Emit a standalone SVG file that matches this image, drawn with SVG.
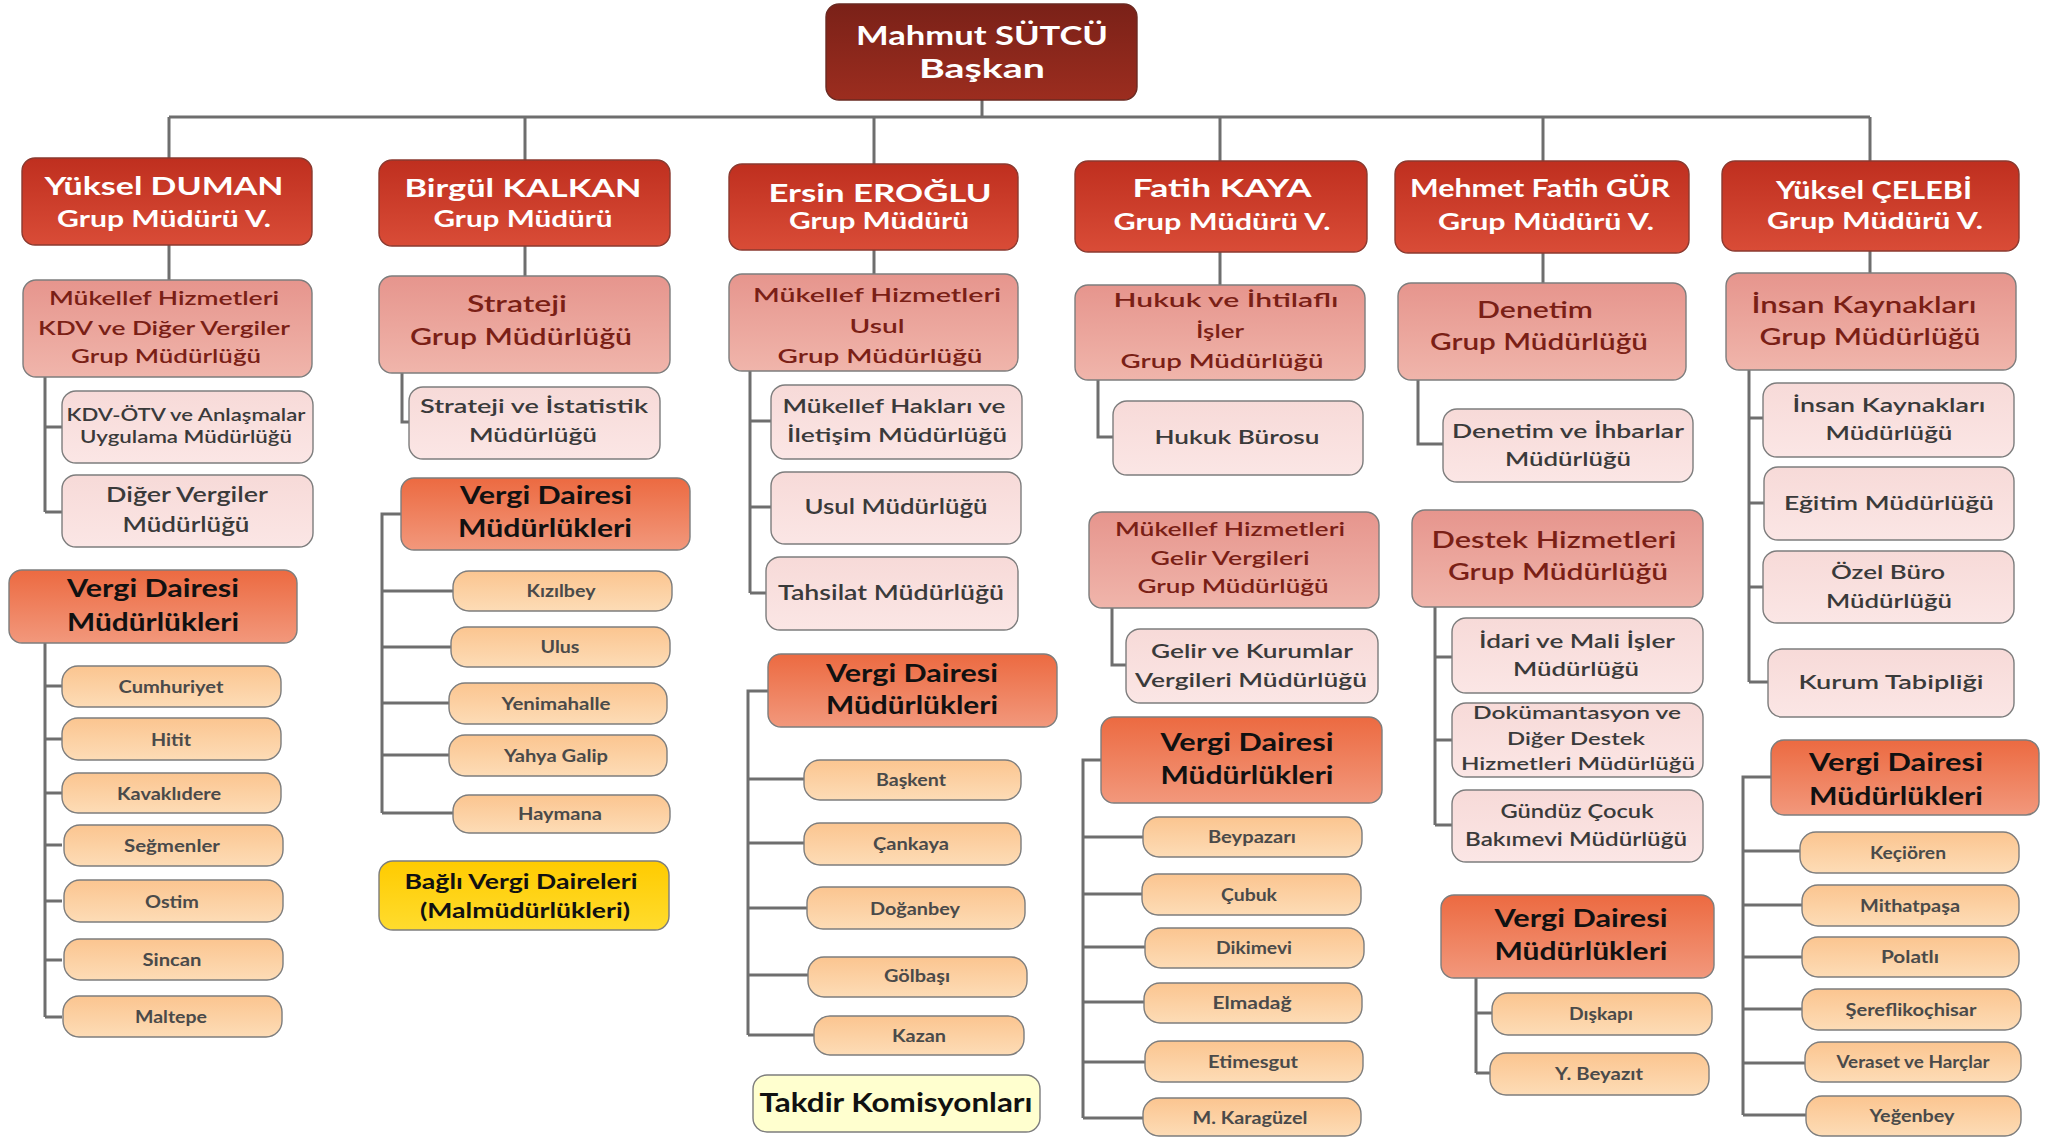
<svg xmlns="http://www.w3.org/2000/svg" width="2056" height="1138" viewBox="0 0 2056 1138">
<defs>
<linearGradient id="gTop" x1="0" y1="0" x2="0" y2="1"><stop offset="0" stop-color="#7a2118"/><stop offset="1" stop-color="#9c2d1f"/></linearGradient>
<linearGradient id="gRed" x1="0" y1="0" x2="0" y2="1"><stop offset="0" stop-color="#bf2f1f"/><stop offset="1" stop-color="#d94c37"/></linearGradient>
<linearGradient id="gPink" x1="0" y1="0" x2="0" y2="1"><stop offset="0" stop-color="#e6958d"/><stop offset="1" stop-color="#f0b5ab"/></linearGradient>
<linearGradient id="gLight" x1="0" y1="0" x2="0" y2="1"><stop offset="0" stop-color="#f7dad8"/><stop offset="1" stop-color="#fbe6e5"/></linearGradient>
<linearGradient id="gOrange" x1="0" y1="0" x2="0" y2="1"><stop offset="0" stop-color="#ec6a41"/><stop offset="1" stop-color="#f2987c"/></linearGradient>
<linearGradient id="gLeaf" x1="0" y1="0" x2="0" y2="1"><stop offset="0" stop-color="#fbc590"/><stop offset="1" stop-color="#fddcb6"/></linearGradient>
<linearGradient id="gYellow" x1="0" y1="0" x2="0" y2="1"><stop offset="0" stop-color="#ffcb00"/><stop offset="1" stop-color="#ffdc2e"/></linearGradient>
</defs>
<style>
text{font-family:Lato,"Open Sans","DejaVu Sans",sans-serif;text-anchor:middle}
rect{stroke:#7d7d7d;stroke-width:1.4}
.top{fill:url(#gTop);stroke:#6a2a22}
.red{fill:url(#gRed);stroke:#8a3a30}
.pink{fill:url(#gPink)}
.light{fill:url(#gLight)}
.vdm{fill:url(#gOrange)}
.leaf{fill:url(#gLeaf)}
.yel{fill:url(#gYellow)}
.tak{fill:#ffffcf}
.tw{fill:#ffffff;font-weight:700}
.tp{fill:#7a1f16;font-weight:600}
.ts{fill:#3a3a3a;font-weight:600}
.tv{fill:#111111;font-weight:700;font-size:24px}
.tl{fill:#4a4a4a;font-weight:700;font-size:16.5px}
.tb{fill:#111111;font-weight:700}
#connectors path{fill:none;stroke:#6e6e6e;stroke-width:3}
</style>

<g id="connectors">
<path d="M982,100V117M169,117H1870M169,117V158M525,117V160M874,117V164M1220,117V161M1543,117V161M1870,117V161"/>
<path d="M169,245V280M525,246V276M874,250V274M1220,252V285M1543,253V283M1870,251V273"/>
<path d="M45,377V512M45,427H62M45,512H62"/>
<path d="M45,643V1017M45,686H62M45,739H62M45,793H62M45,845H62M45,901H62M45,960H62M45,1017H62"/>
<path d="M402,373V422H409"/>
<path d="M401,514H382V813M382,591H453M382,647H451M382,703H449M382,755H449M382,813H453"/>
<path d="M750,371V593M750,421H771M750,507H771M750,593H766"/>
<path d="M768,691H748V1035M748,779H804M748,843H804M748,908H807M748,975H808M748,1035H814"/>
<path d="M1098,380V437H1113"/>
<path d="M1112,608V665H1126"/>
<path d="M1101,760H1083V1118M1083,837H1143M1083,894H1142M1083,947H1145M1083,1002H1144M1083,1062H1145M1083,1118H1143"/>
<path d="M1418,380V444H1443"/>
<path d="M1435,607V825M1435,657H1452M1435,740H1452M1435,825H1452"/>
<path d="M1476,978V1073M1476,1013H1492M1476,1073H1490"/>
<path d="M1749,370V682M1749,418H1763M1749,503H1764M1749,587H1763M1749,682H1768"/>
<path d="M1771,777H1743V1115M1743,851H1800M1743,905H1802M1743,957H1802M1743,1009H1802M1743,1063H1805M1743,1115H1806"/>
</g>

<g id="n-sutcu"><rect class="top" x="826" y="4" width="311" height="96" rx="13"/>
<text class="tw" x="982" y="45" font-size="26" textLength="252" lengthAdjust="spacingAndGlyphs">Mahmut SÜTCÜ</text>
<text class="tw" x="982" y="78" font-size="26" textLength="126" lengthAdjust="spacingAndGlyphs">Başkan</text></g>

<g id="n-duman"><rect class="red" x="22" y="158" width="290" height="87" rx="13"/>
<text class="tw" x="164" y="195" font-size="25" textLength="239" lengthAdjust="spacingAndGlyphs">Yüksel DUMAN</text>
<text class="tw" x="164" y="227" font-size="23" textLength="214" lengthAdjust="spacingAndGlyphs">Grup Müdürü V.</text></g>
<g id="n-kalkan"><rect class="red" x="379" y="160" width="291" height="86" rx="13"/>
<text class="tw" x="523" y="197" font-size="25" textLength="237" lengthAdjust="spacingAndGlyphs">Birgül KALKAN</text>
<text class="tw" x="523" y="227" font-size="23" textLength="179" lengthAdjust="spacingAndGlyphs">Grup Müdürü</text></g>
<g id="n-eroglu"><rect class="red" x="729" y="164" width="289" height="86" rx="13"/>
<text class="tw" x="880" y="202" font-size="24" textLength="223" lengthAdjust="spacingAndGlyphs">Ersin EROĞLU</text>
<text class="tw" x="879" y="229" font-size="23" textLength="180" lengthAdjust="spacingAndGlyphs">Grup Müdürü</text></g>
<g id="n-kaya"><rect class="red" x="1075" y="161" width="292" height="91" rx="13"/>
<text class="tw" x="1222" y="197" font-size="24" textLength="179" lengthAdjust="spacingAndGlyphs">Fatih KAYA</text>
<text class="tw" x="1222" y="230" font-size="23" textLength="217" lengthAdjust="spacingAndGlyphs">Grup Müdürü V.</text></g>
<g id="n-gur"><rect class="red" x="1395" y="161" width="294" height="92" rx="13"/>
<text class="tw" x="1540" y="197" font-size="24" textLength="260" lengthAdjust="spacingAndGlyphs">Mehmet Fatih GÜR</text>
<text class="tw" x="1546" y="230" font-size="23" textLength="216" lengthAdjust="spacingAndGlyphs">Grup Müdürü V.</text></g>
<g id="n-celebi"><rect class="red" x="1722" y="161" width="297" height="90" rx="13"/>
<text class="tw" x="1874" y="199" font-size="24" textLength="196" lengthAdjust="spacingAndGlyphs">Yüksel ÇELEBİ</text>
<text class="tw" x="1875" y="229" font-size="23" textLength="216" lengthAdjust="spacingAndGlyphs">Grup Müdürü V.</text></g>

<g id="n-kdvgrup"><rect class="pink" x="23" y="280" width="289" height="97" rx="13"/>
<text class="tp" x="164" y="305" font-size="19.5" textLength="230" lengthAdjust="spacingAndGlyphs">Mükellef Hizmetleri</text>
<text class="tp" x="164" y="335" font-size="19.5" textLength="252" lengthAdjust="spacingAndGlyphs">KDV ve Diğer Vergiler</text>
<text class="tp" x="166" y="363" font-size="19.5" textLength="190" lengthAdjust="spacingAndGlyphs">Grup Müdürlüğü</text></g>
<g id="n-kdvotv"><rect class="light" x="62" y="391" width="251" height="72" rx="14"/>
<text class="ts" x="186" y="421" font-size="17" textLength="239" lengthAdjust="spacingAndGlyphs">KDV-ÖTV ve Anlaşmalar</text>
<text class="ts" x="186" y="443" font-size="17" textLength="212" lengthAdjust="spacingAndGlyphs">Uygulama Müdürlüğü</text></g>
<g id="n-diger"><rect class="light" x="62" y="475" width="251" height="72" rx="14"/>
<text class="ts" x="187" y="502" font-size="21" textLength="162" lengthAdjust="spacingAndGlyphs">Diğer Vergiler</text>
<text class="ts" x="186" y="532" font-size="21" textLength="127" lengthAdjust="spacingAndGlyphs">Müdürlüğü</text></g>
<g id="n-vdm1"><rect class="vdm" x="9" y="570" width="288" height="73" rx="13"/>
<text class="tv" x="153" y="597" textLength="172" lengthAdjust="spacingAndGlyphs">Vergi Dairesi</text>
<text class="tv" x="153" y="631" textLength="172" lengthAdjust="spacingAndGlyphs">Müdürlükleri</text></g>
<g id="n-cumhuriyet"><rect class="leaf" x="62" y="666" width="219" height="41" rx="16"/><text class="tl" x="171" y="693" textLength="105" lengthAdjust="spacingAndGlyphs">Cumhuriyet</text></g>
<g id="n-hitit"><rect class="leaf" x="62" y="718" width="219" height="42" rx="16"/><text class="tl" x="171" y="746" textLength="40" lengthAdjust="spacingAndGlyphs">Hitit</text></g>
<g id="n-kavaklidere"><rect class="leaf" x="62" y="773" width="219" height="40" rx="16"/><text class="tl" x="169" y="800" textLength="104" lengthAdjust="spacingAndGlyphs">Kavaklıdere</text></g>
<g id="n-segmenler"><rect class="leaf" x="64" y="825" width="219" height="41" rx="16"/><text class="tl" x="172" y="852" textLength="96" lengthAdjust="spacingAndGlyphs">Seğmenler</text></g>
<g id="n-ostim"><rect class="leaf" x="64" y="880" width="219" height="42" rx="16"/><text class="tl" x="172" y="908" textLength="54" lengthAdjust="spacingAndGlyphs">Ostim</text></g>
<g id="n-sincan"><rect class="leaf" x="64" y="939" width="219" height="41" rx="16"/><text class="tl" x="172" y="966" textLength="59" lengthAdjust="spacingAndGlyphs">Sincan</text></g>
<g id="n-maltepe"><rect class="leaf" x="63" y="996" width="219" height="41" rx="16"/><text class="tl" x="171" y="1023" textLength="72" lengthAdjust="spacingAndGlyphs">Maltepe</text></g>

<g id="n-strateji"><rect class="pink" x="379" y="276" width="291" height="97" rx="13"/>
<text class="tp" x="517" y="312" font-size="23" textLength="100" lengthAdjust="spacingAndGlyphs">Strateji</text>
<text class="tp" x="521" y="345" font-size="23" textLength="222" lengthAdjust="spacingAndGlyphs">Grup Müdürlüğü</text></g>
<g id="n-stratist"><rect class="light" x="409" y="387" width="251" height="72" rx="14"/>
<text class="ts" x="534" y="413" font-size="20" textLength="228" lengthAdjust="spacingAndGlyphs">Strateji ve İstatistik</text>
<text class="ts" x="533" y="442" font-size="20" textLength="128" lengthAdjust="spacingAndGlyphs">Müdürlüğü</text></g>
<g id="n-vdm2"><rect class="vdm" x="401" y="478" width="289" height="72" rx="13"/>
<text class="tv" x="546" y="504" textLength="172" lengthAdjust="spacingAndGlyphs">Vergi Dairesi</text>
<text class="tv" x="545" y="537" textLength="174" lengthAdjust="spacingAndGlyphs">Müdürlükleri</text></g>
<g id="n-kizilbey"><rect class="leaf" x="453" y="571" width="219" height="40" rx="16"/><text class="tl" x="561" y="597" textLength="69" lengthAdjust="spacingAndGlyphs">Kızılbey</text></g>
<g id="n-ulus"><rect class="leaf" x="451" y="627" width="219" height="40" rx="16"/><text class="tl" x="560" y="653" textLength="39" lengthAdjust="spacingAndGlyphs">Ulus</text></g>
<g id="n-yenimahalle"><rect class="leaf" x="449" y="683" width="218" height="41" rx="16"/><text class="tl" x="556" y="710" textLength="109" lengthAdjust="spacingAndGlyphs">Yenimahalle</text></g>
<g id="n-yahyagalip"><rect class="leaf" x="449" y="735" width="218" height="41" rx="16"/><text class="tl" x="556" y="762" textLength="104" lengthAdjust="spacingAndGlyphs">Yahya Galip</text></g>
<g id="n-haymana"><rect class="leaf" x="453" y="795" width="217" height="38" rx="16"/><text class="tl" x="560" y="820" textLength="84" lengthAdjust="spacingAndGlyphs">Haymana</text></g>
<g id="n-bagli"><rect class="yel" x="379" y="861" width="290" height="69" rx="14"/>
<text class="tb" x="521" y="889" font-size="21" textLength="233" lengthAdjust="spacingAndGlyphs">Bağlı Vergi Daireleri</text>
<text class="tb" x="525" y="918" font-size="21" textLength="210" lengthAdjust="spacingAndGlyphs">(Malmüdürlükleri)</text></g>

<g id="n-usulgrup"><rect class="pink" x="729" y="274" width="289" height="97" rx="13"/>
<text class="tp" x="877" y="302" font-size="20" textLength="248" lengthAdjust="spacingAndGlyphs">Mükellef Hizmetleri</text>
<text class="tp" x="877" y="333" font-size="20" textLength="55" lengthAdjust="spacingAndGlyphs">Usul</text>
<text class="tp" x="880" y="363" font-size="20" textLength="205" lengthAdjust="spacingAndGlyphs">Grup Müdürlüğü</text></g>
<g id="n-haklar"><rect class="light" x="771" y="385" width="251" height="74" rx="14"/>
<text class="ts" x="894" y="413" font-size="19" textLength="223" lengthAdjust="spacingAndGlyphs">Mükellef Hakları ve</text>
<text class="ts" x="897" y="442" font-size="19" textLength="220" lengthAdjust="spacingAndGlyphs">İletişim Müdürlüğü</text></g>
<g id="n-usulmud"><rect class="light" x="771" y="472" width="250" height="72" rx="14"/>
<text class="ts" x="896" y="514" font-size="21" textLength="183" lengthAdjust="spacingAndGlyphs">Usul Müdürlüğü</text></g>
<g id="n-tahsilat"><rect class="light" x="766" y="557" width="252" height="73" rx="14"/>
<text class="ts" x="891" y="600" font-size="21" textLength="226" lengthAdjust="spacingAndGlyphs">Tahsilat Müdürlüğü</text></g>
<g id="n-vdm3"><rect class="vdm" x="768" y="654" width="289" height="73" rx="13"/>
<text class="tv" x="912" y="682" textLength="172" lengthAdjust="spacingAndGlyphs">Vergi Dairesi</text>
<text class="tv" x="912" y="714" textLength="172" lengthAdjust="spacingAndGlyphs">Müdürlükleri</text></g>
<g id="n-baskent"><rect class="leaf" x="804" y="760" width="217" height="40" rx="16"/><text class="tl" x="911" y="786" textLength="70" lengthAdjust="spacingAndGlyphs">Başkent</text></g>
<g id="n-cankaya"><rect class="leaf" x="804" y="823" width="217" height="42" rx="16"/><text class="tl" x="911" y="850" textLength="76" lengthAdjust="spacingAndGlyphs">Çankaya</text></g>
<g id="n-doganbey"><rect class="leaf" x="807" y="887" width="218" height="42" rx="16"/><text class="tl" x="915" y="915" textLength="90" lengthAdjust="spacingAndGlyphs">Doğanbey</text></g>
<g id="n-golbasi"><rect class="leaf" x="808" y="957" width="219" height="40" rx="16"/><text class="tl" x="917" y="982" textLength="66" lengthAdjust="spacingAndGlyphs">Gölbaşı</text></g>
<g id="n-kazan"><rect class="leaf" x="814" y="1016" width="210" height="39" rx="16"/><text class="tl" x="919" y="1042" textLength="54" lengthAdjust="spacingAndGlyphs">Kazan</text></g>
<g id="n-takdir"><rect class="tak" x="753" y="1075" width="287" height="57" rx="14"/>
<text class="tb" x="896" y="1112" font-size="27" textLength="273" lengthAdjust="spacingAndGlyphs">Takdir Komisyonları</text></g>

<g id="n-hukukgrup"><rect class="pink" x="1075" y="285" width="290" height="95" rx="13"/>
<text class="tp" x="1226" y="307" font-size="20" textLength="225" lengthAdjust="spacingAndGlyphs">Hukuk ve İhtilaflı</text>
<text class="tp" x="1220" y="338" font-size="20" textLength="48" lengthAdjust="spacingAndGlyphs">İşler</text>
<text class="tp" x="1222" y="368" font-size="20" textLength="203" lengthAdjust="spacingAndGlyphs">Grup Müdürlüğü</text></g>
<g id="n-hukukburo"><rect class="light" x="1113" y="401" width="250" height="74" rx="14"/>
<text class="ts" x="1237" y="444" font-size="20" textLength="165" lengthAdjust="spacingAndGlyphs">Hukuk Bürosu</text></g>
<g id="n-gelirgrup"><rect class="pink" x="1089" y="512" width="290" height="96" rx="13"/>
<text class="tp" x="1230" y="536" font-size="19" textLength="230" lengthAdjust="spacingAndGlyphs">Mükellef Hizmetleri</text>
<text class="tp" x="1230" y="565" font-size="19" textLength="159" lengthAdjust="spacingAndGlyphs">Gelir Vergileri</text>
<text class="tp" x="1233" y="593" font-size="19" textLength="191" lengthAdjust="spacingAndGlyphs">Grup Müdürlüğü</text></g>
<g id="n-gelirkurum"><rect class="light" x="1126" y="629" width="252" height="74" rx="14"/>
<text class="ts" x="1252" y="658" font-size="20" textLength="202" lengthAdjust="spacingAndGlyphs">Gelir ve Kurumlar</text>
<text class="ts" x="1251" y="687" font-size="20" textLength="232" lengthAdjust="spacingAndGlyphs">Vergileri Müdürlüğü</text></g>
<g id="n-vdm4"><rect class="vdm" x="1101" y="717" width="281" height="86" rx="13"/>
<text class="tv" x="1247" y="751" textLength="173" lengthAdjust="spacingAndGlyphs">Vergi Dairesi</text>
<text class="tv" x="1247" y="784" textLength="173" lengthAdjust="spacingAndGlyphs">Müdürlükleri</text></g>
<g id="n-beypazari"><rect class="leaf" x="1143" y="817" width="219" height="40" rx="16"/><text class="tl" x="1252" y="843" textLength="88" lengthAdjust="spacingAndGlyphs">Beypazarı</text></g>
<g id="n-cubuk"><rect class="leaf" x="1142" y="874" width="219" height="41" rx="16"/><text class="tl" x="1249" y="901" textLength="56" lengthAdjust="spacingAndGlyphs">Çubuk</text></g>
<g id="n-dikimevi"><rect class="leaf" x="1145" y="928" width="219" height="40" rx="16"/><text class="tl" x="1254" y="954" textLength="76" lengthAdjust="spacingAndGlyphs">Dikimevi</text></g>
<g id="n-elmadag"><rect class="leaf" x="1144" y="983" width="218" height="40" rx="16"/><text class="tl" x="1252" y="1009" textLength="79" lengthAdjust="spacingAndGlyphs">Elmadağ</text></g>
<g id="n-etimesgut"><rect class="leaf" x="1145" y="1041" width="218" height="41" rx="16"/><text class="tl" x="1253" y="1068" textLength="90" lengthAdjust="spacingAndGlyphs">Etimesgut</text></g>
<g id="n-karaguzel"><rect class="leaf" x="1143" y="1098" width="218" height="38" rx="16"/><text class="tl" x="1250" y="1124" textLength="115" lengthAdjust="spacingAndGlyphs">M. Karagüzel</text></g>

<g id="n-denetimgrup"><rect class="pink" x="1398" y="283" width="288" height="97" rx="13"/>
<text class="tp" x="1535" y="318" font-size="23" textLength="116" lengthAdjust="spacingAndGlyphs">Denetim</text>
<text class="tp" x="1539" y="350" font-size="23" textLength="218" lengthAdjust="spacingAndGlyphs">Grup Müdürlüğü</text></g>
<g id="n-ihbar"><rect class="light" x="1443" y="409" width="250" height="73" rx="14"/>
<text class="ts" x="1568" y="438" font-size="20" textLength="232" lengthAdjust="spacingAndGlyphs">Denetim ve İhbarlar</text>
<text class="ts" x="1568" y="466" font-size="20" textLength="126" lengthAdjust="spacingAndGlyphs">Müdürlüğü</text></g>
<g id="n-destekgrup"><rect class="pink" x="1412" y="510" width="291" height="97" rx="13"/>
<text class="tp" x="1554" y="548" font-size="23" textLength="245" lengthAdjust="spacingAndGlyphs">Destek Hizmetleri</text>
<text class="tp" x="1558" y="580" font-size="23" textLength="220" lengthAdjust="spacingAndGlyphs">Grup Müdürlüğü</text></g>
<g id="n-idari"><rect class="light" x="1452" y="618" width="251" height="75" rx="14"/>
<text class="ts" x="1577" y="648" font-size="20" textLength="196" lengthAdjust="spacingAndGlyphs">İdari ve Mali İşler</text>
<text class="ts" x="1576" y="676" font-size="20" textLength="126" lengthAdjust="spacingAndGlyphs">Müdürlüğü</text></g>
<g id="n-dokuman"><rect class="light" x="1452" y="703" width="251" height="74" rx="14"/>
<text class="ts" x="1577" y="719" font-size="17" textLength="208" lengthAdjust="spacingAndGlyphs">Dokümantasyon ve</text>
<text class="ts" x="1576" y="745" font-size="17" textLength="138" lengthAdjust="spacingAndGlyphs">Diğer Destek</text>
<text class="ts" x="1578" y="770" font-size="17" textLength="234" lengthAdjust="spacingAndGlyphs">Hizmetleri Müdürlüğü</text></g>
<g id="n-gunduz"><rect class="light" x="1452" y="790" width="251" height="72" rx="14"/>
<text class="ts" x="1577" y="818" font-size="19" textLength="153" lengthAdjust="spacingAndGlyphs">Gündüz Çocuk</text>
<text class="ts" x="1576" y="846" font-size="19" textLength="222" lengthAdjust="spacingAndGlyphs">Bakımevi Müdürlüğü</text></g>
<g id="n-vdm5"><rect class="vdm" x="1441" y="895" width="273" height="83" rx="13"/>
<text class="tv" x="1581" y="927" textLength="173" lengthAdjust="spacingAndGlyphs">Vergi Dairesi</text>
<text class="tv" x="1581" y="960" textLength="173" lengthAdjust="spacingAndGlyphs">Müdürlükleri</text></g>
<g id="n-diskapi"><rect class="leaf" x="1492" y="993" width="220" height="42" rx="16"/><text class="tl" x="1601" y="1020" textLength="64" lengthAdjust="spacingAndGlyphs">Dışkapı</text></g>
<g id="n-beyazit"><rect class="leaf" x="1490" y="1053" width="219" height="42" rx="16"/><text class="tl" x="1599" y="1080" textLength="88" lengthAdjust="spacingAndGlyphs">Y. Beyazıt</text></g>

<g id="n-ikgrup"><rect class="pink" x="1726" y="273" width="290" height="97" rx="13"/>
<text class="tp" x="1864" y="313" font-size="23" textLength="225" lengthAdjust="spacingAndGlyphs">İnsan Kaynakları</text>
<text class="tp" x="1870" y="345" font-size="23" textLength="221" lengthAdjust="spacingAndGlyphs">Grup Müdürlüğü</text></g>
<g id="n-ikmud"><rect class="light" x="1763" y="383" width="251" height="74" rx="14"/>
<text class="ts" x="1889" y="412" font-size="20" textLength="193" lengthAdjust="spacingAndGlyphs">İnsan Kaynakları</text>
<text class="ts" x="1889" y="440" font-size="20" textLength="127" lengthAdjust="spacingAndGlyphs">Müdürlüğü</text></g>
<g id="n-egitim"><rect class="light" x="1764" y="467" width="250" height="73" rx="14"/>
<text class="ts" x="1889" y="510" font-size="20" textLength="210" lengthAdjust="spacingAndGlyphs">Eğitim Müdürlüğü</text></g>
<g id="n-ozelburo"><rect class="light" x="1763" y="551" width="251" height="72" rx="14"/>
<text class="ts" x="1888" y="579" font-size="20" textLength="114" lengthAdjust="spacingAndGlyphs">Özel Büro</text>
<text class="ts" x="1889" y="608" font-size="20" textLength="126" lengthAdjust="spacingAndGlyphs">Müdürlüğü</text></g>
<g id="n-tabip"><rect class="light" x="1768" y="649" width="246" height="68" rx="14"/>
<text class="ts" x="1891" y="689" font-size="20" textLength="185" lengthAdjust="spacingAndGlyphs">Kurum Tabipliği</text></g>
<g id="n-vdm6"><rect class="vdm" x="1771" y="740" width="268" height="75" rx="13"/>
<text class="tv" x="1896" y="771" textLength="174" lengthAdjust="spacingAndGlyphs">Vergi Dairesi</text>
<text class="tv" x="1896" y="805" textLength="174" lengthAdjust="spacingAndGlyphs">Müdürlükleri</text></g>
<g id="n-kecioren"><rect class="leaf" x="1800" y="832" width="219" height="41" rx="16"/><text class="tl" x="1908" y="859" textLength="76" lengthAdjust="spacingAndGlyphs">Keçiören</text></g>
<g id="n-mithatpasa"><rect class="leaf" x="1802" y="885" width="217" height="41" rx="16"/><text class="tl" x="1910" y="912" textLength="100" lengthAdjust="spacingAndGlyphs">Mithatpaşa</text></g>
<g id="n-polatli"><rect class="leaf" x="1802" y="937" width="217" height="40" rx="16"/><text class="tl" x="1910" y="963" textLength="58" lengthAdjust="spacingAndGlyphs">Polatlı</text></g>
<g id="n-sereflikochisar"><rect class="leaf" x="1802" y="989" width="219" height="41" rx="16"/><text class="tl" x="1911" y="1016" textLength="131" lengthAdjust="spacingAndGlyphs">Şereflikoçhisar</text></g>
<g id="n-veraset"><rect class="leaf" x="1805" y="1042" width="216" height="40" rx="16"/><text class="tl" x="1913" y="1068" textLength="153" lengthAdjust="spacingAndGlyphs">Veraset ve Harçlar</text></g>
<g id="n-yegenbey"><rect class="leaf" x="1806" y="1096" width="215" height="40" rx="16"/><text class="tl" x="1912" y="1122" textLength="85" lengthAdjust="spacingAndGlyphs">Yeğenbey</text></g>
</svg>
